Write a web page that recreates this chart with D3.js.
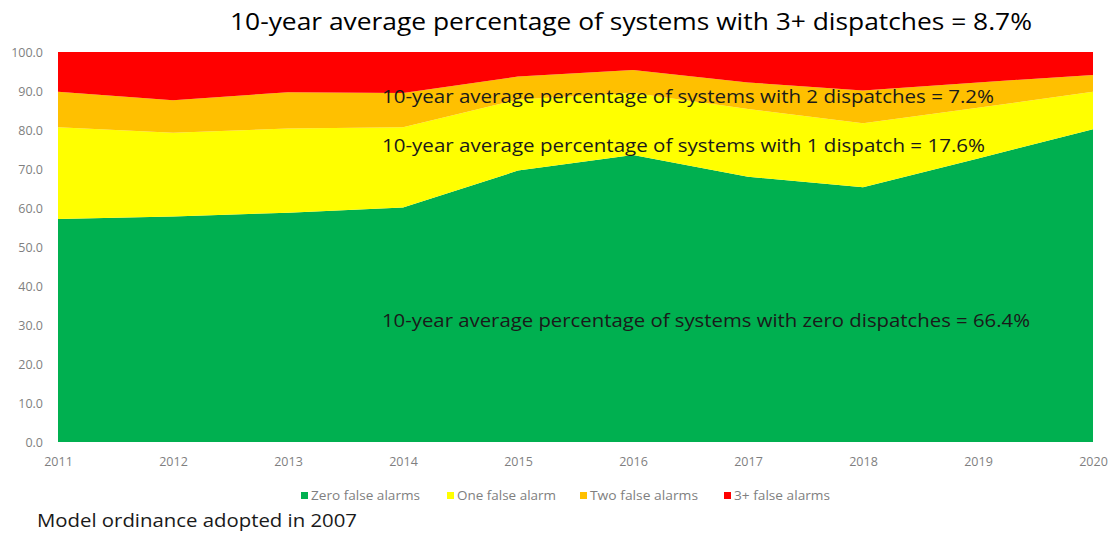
<!DOCTYPE html>
<html>
<head>
<meta charset="utf-8">
<script src="https://cdn.jsdelivr.net/npm/d3@7"></script>
<style>
  html, body { margin: 0; padding: 0; background: #fff; }
  svg { display: block; }
</style>
</head>
<body>
<svg id="chart" width="1115" height="533"></svg>
<script>
// Share of alarm systems by number of false-alarm dispatches per year (%)
const years = ["2011", "2012", "2013", "2014", "2015", "2016", "2017", "2018", "2019", "2020"];
const zeroAlarms  = [57.2, 57.8, 58.8, 60.1, 69.6, 73.6, 68.0, 65.3, 72.7, 80.2];
const oneAlarm    = [23.5, 21.5, 21.6, 20.6, 18.2, 15.9, 17.4, 16.4, 13.0, 9.6];
const twoAlarms   = [9.1, 8.3, 9.3, 8.8, 5.9, 5.9, 6.8, 8.4, 6.5, 4.3];
const threePlus   = [10.2, 12.4, 10.3, 10.5, 6.3, 4.6, 7.8, 9.9, 7.8, 5.9];
const seriesNames = ["Zero false alarms", "One false alarm", "Two false alarms", "3+ false alarms"];
const seriesColors = ["#00B050", "#FFFF00", "#FFC000", "#FF0000"];
const yTicks = [0, 10, 20, 30, 40, 50, 60, 70, 80, 90, 100];

const titleText = "10-year average percentage of systems with 3+ dispatches = 8.7%";
const notes = [
  { text: "10-year average percentage of systems with 2 dispatches = 7.2%", y: 103, w: 612 },
  { text: "10-year average percentage of systems with 1 dispatch = 17.6%", y: 152, w: 603 },
  { text: "10-year average percentage of systems with zero dispatches = 66.4%", y: 327, w: 648 }
];
const footnote = "Model ordinance adopted in 2007";

const svg = d3.select("#chart");
const font = "'Open Sans', 'Noto Sans', sans-serif";
const plotLeft = 58, plotRight = 1093, plotTop = 52, plotBottom = 442;

const table = years.map((yr, i) => ({
  year: yr,
  s0: zeroAlarms[i], s1: oneAlarm[i], s2: twoAlarms[i], s3: threePlus[i]
}));
const keys = ["s0", "s1", "s2", "s3"];
const stacked = d3.stack().keys(keys)(table);

const x = d3.scalePoint().domain(years).range([plotLeft, plotRight]);
const y = d3.scaleLinear().domain([0, 100]).range([plotBottom, plotTop]);

const area = d3.area()
  .x(d => x(d.data.year))
  .y0(d => y(d[0]))
  .y1(d => y(Math.min(100, d[1])));

svg.append("g").selectAll("path")
  .data(stacked)
  .join("path")
  .attr("d", area)
  .attr("fill", (d, i) => seriesColors[i]);

// Y axis
const yAxis = svg.append("g")
  .attr("transform", `translate(${plotLeft - 15},0)`)
  .call(d3.axisLeft(y).tickValues(yTicks).tickFormat(d3.format(".1f")).tickSize(0));
yAxis.select(".domain").remove();
yAxis.selectAll("text")
  .attr("x", 0)
  .attr("fill", "#7f7f7f")
  .style("font-family", font)
  .style("font-size", "12.5px");

// X axis
const xAxis = svg.append("g")
  .attr("transform", `translate(0,${plotBottom + 12})`)
  .call(d3.axisBottom(x).tickSize(0));
xAxis.select(".domain").remove();
xAxis.selectAll("text")
  .attr("fill", "#7f7f7f")
  .style("font-family", font)
  .style("font-size", "12.5px");

// Legend
const legendX = [301, 447, 580, 724];
const legendW = [109, 99, 108, 96];
const legend = svg.append("g");
seriesNames.forEach((name, i) => {
  legend.append("rect")
    .attr("x", legendX[i]).attr("y", 492)
    .attr("width", 7).attr("height", 7)
    .attr("fill", seriesColors[i]);
  legend.append("text")
    .attr("x", legendX[i] + 10).attr("y", 500)
    .attr("textLength", legendW[i]).attr("lengthAdjust", "spacingAndGlyphs")
    .attr("fill", "#7f7f7f")
    .style("font-family", font)
    .style("font-size", "13px")
    .text(name);
});

// Title
svg.append("text")
  .attr("x", 230).attr("y", 30)
  .attr("textLength", 802).attr("lengthAdjust", "spacingAndGlyphs")
  .attr("fill", "#000")
  .style("font-family", font)
  .style("font-size", "24px")
  .text(titleText);

// Annotations over the areas
svg.append("g").selectAll("text")
  .data(notes)
  .join("text")
  .attr("x", 382)
  .attr("y", d => d.y)
  .attr("textLength", d => d.w)
  .attr("lengthAdjust", "spacingAndGlyphs")
  .attr("fill", "#1a1a1a")
  .style("font-family", font)
  .style("font-size", "19px")
  .text(d => d.text);

// Footnote
svg.append("text")
  .attr("x", 37).attr("y", 527)
  .attr("textLength", 320).attr("lengthAdjust", "spacingAndGlyphs")
  .attr("fill", "#1a1a1a")
  .style("font-family", font)
  .style("font-size", "18px")
  .text(footnote);
</script>
</body>
</html>
